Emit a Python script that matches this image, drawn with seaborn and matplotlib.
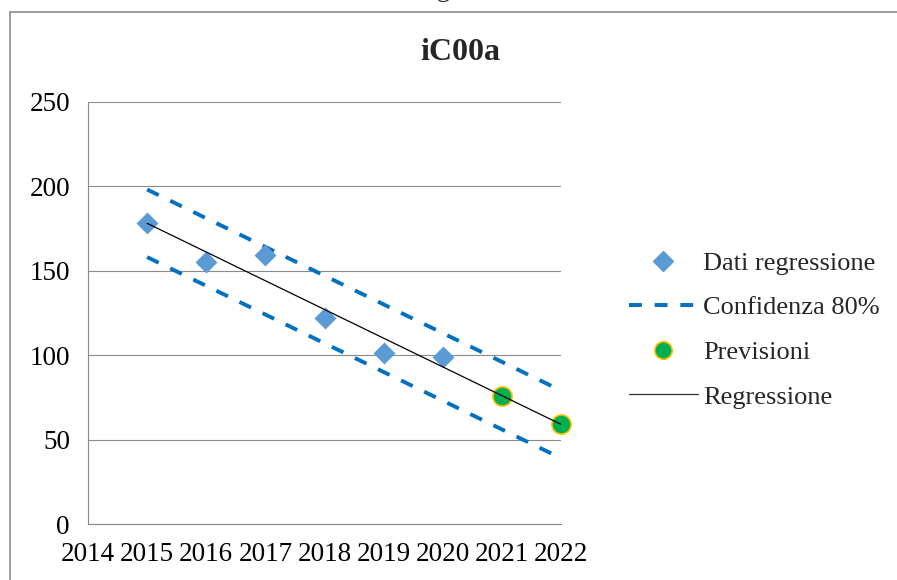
import matplotlib
matplotlib.use("Agg")
import matplotlib.pyplot as plt
from matplotlib.lines import Line2D
import seaborn as sns
import pandas as pd

# ---- data ----
years_obs = [2015, 2016, 2017, 2018, 2019, 2020]
obs_values = [178, 155, 159, 122, 101, 99]
years_fc = [2021, 2022]
fc_values = [76, 59]
years_all = [2015, 2016, 2017, 2018, 2019, 2020, 2021, 2022]
reg_values = [178, 161, 144, 127, 110, 93, 76, 59]
upper_values = [198, 181, 164, 147, 130, 113, 96, 79]
lower_values = [158, 141, 124, 107, 90, 73, 56, 39]
x_ticks = [2014, 2015, 2016, 2017, 2018, 2019, 2020, 2021, 2022]
y_ticks = [0, 50, 100, 150, 200, 250]
labels = ["Dati regressione", "Confidenza 80%", "Previsioni", "Regressione"]
title = "iC00a"

sns.set_style("white")
plt.rcParams['font.family'] = ['Liberation Serif', 'DejaVu Serif']

GREY = '#8a8a8a'
C_DIAMOND = '#5B9BD5'
C_DASH = '#0070C0'
C_GREEN = '#00B050'
C_GOLD = '#FFC000'

df_obs = pd.DataFrame({'year': years_obs, 'value': obs_values})
df_fc = pd.DataFrame({'year': years_fc, 'value': fc_values})
df_band = pd.DataFrame({'year': years_all, 'reg': reg_values,
                        'upper': upper_values, 'lower': lower_values})

fig = plt.figure(figsize=(8.97, 5.80), dpi=100)
ax = fig.add_axes([88 / 897, 1 - 524 / 580, (561 - 88) / 897, (524 - 101.7) / 580])

dash_ls = (0, (3.3, 3.3))
sns.lineplot(data=df_band, x='year', y='upper', ax=ax, color=C_DASH,
             linewidth=2.8, linestyle=dash_ls, zorder=2)
sns.lineplot(data=df_band, x='year', y='lower', ax=ax, color=C_DASH,
             linewidth=2.8, linestyle=dash_ls, zorder=2)
sns.scatterplot(data=df_obs, x='year', y='value', ax=ax, marker='D', s=125,
                color=C_DIAMOND, edgecolor=C_DIAMOND, linewidth=0, zorder=3, clip_on=False)
sns.scatterplot(data=df_fc, x='year', y='value', ax=ax, marker='o', s=190,
                color=C_GREEN, edgecolor=C_GOLD, linewidth=1.2, zorder=4, clip_on=False)
sns.lineplot(data=df_band, x='year', y='reg', ax=ax, color='black',
             linewidth=0.9, zorder=5)

ax.set_xlim(2014, 2022)
ax.set_ylim(0, 250)
ax.set_xticks(x_ticks)
ax.set_xticklabels([str(t) for t in x_ticks])
ax.set_yticks(y_ticks)
ax.set_xlabel('')
ax.set_ylabel('')
ax.grid(axis='y', color=GREY, linewidth=0.8)
ax.grid(axis='x', visible=False)
ax.set_axisbelow(True)
for side in ['top', 'right']:
    ax.spines[side].set_visible(False)
for side in ['left', 'bottom']:
    ax.spines[side].set_color(GREY)
    ax.spines[side].set_linewidth(0.8)
ax.tick_params(axis='both', direction='out', length=5, width=0.8, color=GREY,
               labelsize=19.5, labelcolor='black')
ax.tick_params(axis='y', pad=8)
ax.tick_params(axis='x', pad=8)
if ax.get_legend() is not None:
    ax.get_legend().remove()

handles = [
    Line2D([], [], marker='D', linestyle='None', markerfacecolor=C_DIAMOND,
           markeredgecolor=C_DIAMOND, markersize=10),
    Line2D([], [], color=C_DASH, linewidth=2.8, linestyle=dash_ls),
    Line2D([], [], marker='o', linestyle='None', markerfacecolor=C_GREEN,
           markeredgecolor=C_GOLD, markeredgewidth=1.2, markersize=12.5),
    Line2D([], [], color='#333333', linewidth=0.9),
]
fig.legend(handles, labels, loc='center left', bbox_to_anchor=(629 / 897, 1 - 330 / 580),
           frameon=False, fontsize=19, handlelength=2.6, handletextpad=0.2,
           labelspacing=0.8, borderpad=0, borderaxespad=0)

fig.text(460 / 897, 1 - 52 / 580, title, ha='center', va='center',
         fontsize=23, fontweight='bold')
# clipped fragment of text above the chart frame
fig.text(437 / 897, 1 + 3 / 580, 'g', ha='left', va='baseline', fontsize=19)

# chart frame (left and top edges visible)
fig.add_artist(Line2D([9.5 / 897, 9.5 / 897], [0, 1 - 12 / 580],
                      transform=fig.transFigure, color=GREY, linewidth=1.2))
fig.add_artist(Line2D([9.5 / 897, 1], [1 - 12 / 580, 1 - 12 / 580],
                      transform=fig.transFigure, color=GREY, linewidth=1.2))

fig.savefig('out.png', dpi=100)
